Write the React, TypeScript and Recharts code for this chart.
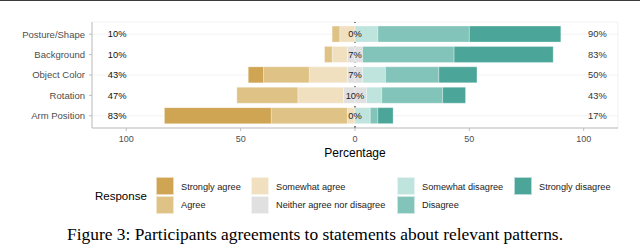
import React from 'react';
import {
  BarChart,
  Bar,
  XAxis,
  YAxis,
  CartesianGrid,
  ReferenceLine,
  ReferenceDot,
} from 'recharts';

const categories = ['Posture/Shape', 'Background', 'Object Color', 'Rotation', 'Arm Position'];
const stronglyAgree = [0, 0, 6.67, 0, 46.67];
const agree = [3.33, 3.33, 20, 26.67, 33.33];
const somewhatAgree = [6.67, 6.67, 16.67, 20, 3.33];
const neutral = [0, 6.67, 6.67, 10, 0];
const somewhatDisagree = [10, 0, 10, 6.67, 6.67];
const disagree = [40, 40, 23.33, 26.67, 3.33];
const stronglyDisagree = [40, 43.33, 16.67, 10, 6.67];

const leftLabels = ['10%', '10%', '43%', '47%', '83%'];
const centerLabels = ['0%', '7%', '7%', '10%', '0%'];
const rightLabels = ['90%', '83%', '50%', '43%', '17%'];

const xTicks = [-100, -50, 0, 50, 100];
const gridTicks = [-100, -75, -50, -25, 0, 25, 50, 75, 100];

const COLORS: Record<string, string> = {
  'Strongly agree': '#CFA453',
  Agree: '#DFC285',
  'Somewhat agree': '#F0E0C0',
  'Neither agree nor disagree': '#E0E0E0',
  'Somewhat disagree': '#BFE3DD',
  Disagree: '#82C4B9',
  'Strongly disagree': '#4BA699',
};

const data = categories.map((name, i) => ({
  name,
  neutralL: -neutral[i] / 2,
  neutralR: neutral[i] / 2,
  somewhatAgree: -somewhatAgree[i],
  somewhatDisagree: somewhatDisagree[i],
  agree: -agree[i],
  disagree: disagree[i],
  stronglyAgree: -stronglyAgree[i],
  stronglyDisagree: stronglyDisagree[i],
}));

const series: { key: string; resp: string }[] = [
  { key: 'neutralL', resp: 'Neither agree nor disagree' },
  { key: 'neutralR', resp: 'Neither agree nor disagree' },
  { key: 'somewhatAgree', resp: 'Somewhat agree' },
  { key: 'somewhatDisagree', resp: 'Somewhat disagree' },
  { key: 'agree', resp: 'Agree' },
  { key: 'disagree', resp: 'Disagree' },
  { key: 'stronglyAgree', resp: 'Strongly agree' },
  { key: 'stronglyDisagree', resp: 'Strongly disagree' },
];

const FONT = '"Liberation Sans", Arial, sans-serif';

const legendColumns = [
  { x: 156, items: ['Strongly agree', 'Agree'] },
  { x: 251, items: ['Somewhat agree', 'Neither agree nor disagree'] },
  { x: 397, items: ['Somewhat disagree', 'Disagree'] },
  { x: 514, items: ['Strongly disagree'] },
];

const makeText = (label: string, color: string) => (p: any) => (
  <text
    x={p.cx}
    y={p.cy}
    dy="0.35em"
    textAnchor="middle"
    fontSize={9.3}
    fontFamily={FONT}
    fill={color}
  >
    {label}
  </text>
);

export default function App() {
  return (
    <div
      style={{
        position: 'fixed',
        left: 0,
        top: 0,
        width: 640,
        height: 244,
        background: '#fff',
        fontFamily: FONT,
        overflow: 'hidden',
      }}
    >
      <div style={{ position: 'absolute', left: 0, top: 0, width: 640, height: 1, background: '#3a3a3a' }} />
      <div style={{ position: 'absolute', left: 0, top: 0 }}>
        <BarChart
          width={640}
          height={162}
          data={data}
          layout="vertical"
          stackOffset="sign"
          barCategoryGap="10%"
          margin={{ top: 22, right: 22, bottom: 0, left: 0 }}
        >
          <CartesianGrid xAxisId="top" stroke="#EFEFEF" strokeWidth={0.8} />
          <XAxis
            type="number"
            domain={[-115, 115]}
            allowDataOverflow
            ticks={xTicks}
            tickFormatter={(v: number) => String(Math.abs(v))}
            height={34}
            axisLine={{ stroke: '#BDBDBD', strokeWidth: 1 }}
            tickLine={{ stroke: '#BDBDBD' }}
            tickSize={3}
            tickMargin={5}
            tick={{ fontSize: 9, fill: '#4D4D4D', fontFamily: FONT }}
            label={{ value: 'Percentage', position: 'insideBottom', offset: 5, fill: '#000', fontSize: 12, fontFamily: FONT }}
          />
          <XAxis
            xAxisId="top"
            orientation="top"
            type="number"
            domain={[-115, 115]}
            allowDataOverflow
            ticks={gridTicks}
            height={0}
            tick={false}
            tickLine={false}
            axisLine={{ stroke: '#BDBDBD', strokeWidth: 1 }}
          />
          <YAxis
            type="category"
            dataKey="name"
            width={92}
            padding={{ top: 2, bottom: 2 }}
            axisLine={{ stroke: '#BDBDBD', strokeWidth: 1 }}
            tickLine={{ stroke: '#BDBDBD' }}
            tickSize={3}
            tickMargin={4}
            tick={{ fontSize: 9.5, fill: '#4D4D4D', fontFamily: FONT }}
          />
          <YAxis
            yAxisId="right"
            orientation="right"
            type="category"
            dataKey="name"
            width={0}
            tick={false}
            tickLine={false}
            axisLine={{ stroke: '#BDBDBD', strokeWidth: 1 }}
          />
          <ReferenceLine x={0} stroke="#000" strokeWidth={1} strokeDasharray="2 3" zIndex={100} />
          {series.map((s) => (
            <Bar
              key={s.key}
              dataKey={s.key}
              stackId="a"
              fill={COLORS[s.resp]}
              stroke="#ffffff"
              strokeOpacity={0.5}
              strokeWidth={0.6}
              isAnimationActive={false}
            />
          ))}
          {categories.map((c, i) => (
            <ReferenceDot key={'l' + i} x={-104} y={c} r={0} shape={makeText(leftLabels[i], '#111')} />
          ))}
          {categories.map((c, i) => (
            <ReferenceDot key={'c' + i} x={0} y={c} r={0} shape={makeText(centerLabels[i], '#222')} />
          ))}
          {categories.map((c, i) => (
            <ReferenceDot key={'r' + i} x={106} y={c} r={0} shape={makeText(rightLabels[i], '#333')} />
          ))}
        </BarChart>
      </div>

      <div
        style={{
          position: 'absolute',
          left: 95,
          top: 189,
          fontSize: 11.5,
          lineHeight: '14px',
          color: '#000',
        }}
      >
        Response
      </div>
      {legendColumns.map((col) =>
        col.items.map((item, j) => (
          <React.Fragment key={item}>
            <div
              style={{
                position: 'absolute',
                left: col.x,
                top: 177 + j * 18.5,
                width: 18,
                height: 18,
                background: COLORS[item],
                boxSizing: 'border-box',
                border: '1px solid rgba(255,255,255,0.6)',
              }}
            />
            <div
              style={{
                position: 'absolute',
                left: col.x + 25,
                top: 180.5 + j * 18.5,
                fontSize: 9.2,
                lineHeight: '12px',
                color: '#222',
                whiteSpace: 'nowrap',
              }}
            >
              {item}
            </div>
          </React.Fragment>
        ))
      )}
      <div
        style={{
          position: 'absolute',
          left: 67,
          top: 223.5,
          fontFamily: '"Liberation Serif", "Times New Roman", serif',
          fontSize: 17.4,
          lineHeight: '20px',
          color: '#000',
          whiteSpace: 'nowrap',
        }}
      >
        Figure 3: Participants agreements to statements about relevant patterns.
      </div>
    </div>
  );
}
